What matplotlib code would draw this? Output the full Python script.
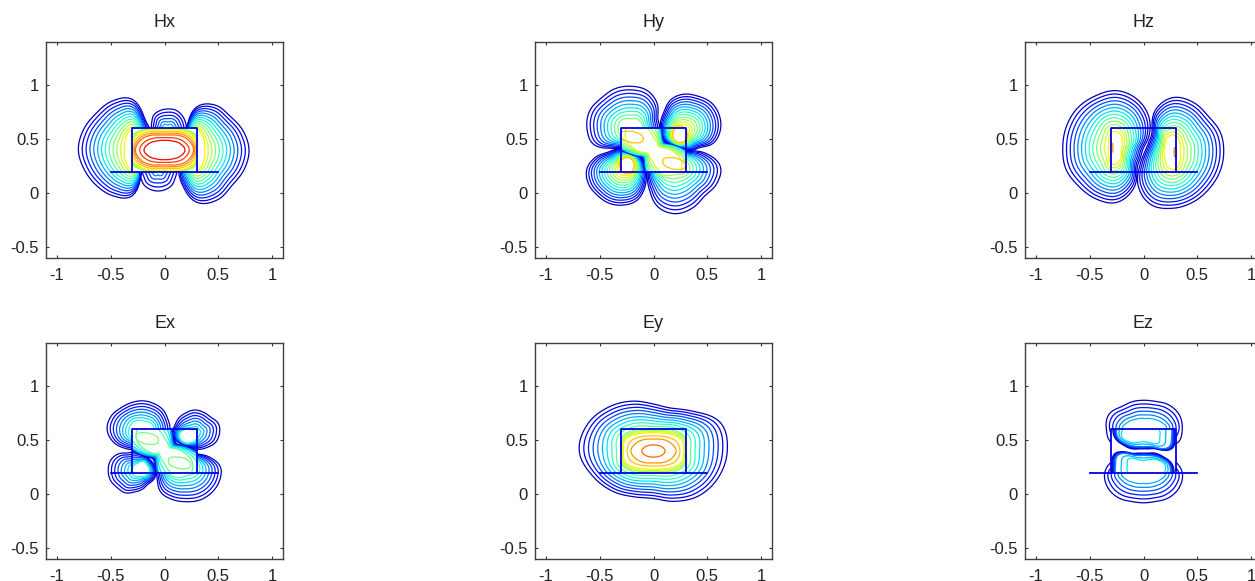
import numpy as np
import matplotlib
matplotlib.use("Agg")
import matplotlib.pyplot as plt
from matplotlib.path import Path

plt.rcParams['font.family'] = ['Liberation Sans', 'DejaVu Sans']

# every lobe: centre, contour levels of the rings, ring radii read every 22.5 deg (counter clockwise from east)
ANGLES = np.arange(0, 360, 22.5)
XTICKS = [-1, -0.5, 0, 0.5, 1]
XTICK_LABELS = ['-1', '-0.5', '0', '0.5', '1']
YTICKS = [-0.5, 0, 0.5, 1]
YTICK_LABELS = ['-0.5', '0', '0.5', '1']
TITLES = ['Hx', 'Hy', 'Hz', 'Ex', 'Ey', 'Ez']
RECT_X = [-0.3, -0.3, 0.3, 0.3]
RECT_Y = [0.2, 0.6, 0.6, 0.2]
BASE_X = [-0.5, 0.5]
BASE_Y = [0.2, 0.2]

# small tilted oval used for the closed rings inside the guide
OVAL = [.105, .08, .06, .055, .055, .06, .08, .11, .105, .08, .06, .055, .055, .06, .08, .11]
OVAL_IN = [.01] * 16
TINY = [.012, .012, .014, .03, .045, .03, .014, .012, .012, .012, .014, .03, .045, .03, .014, .012]

# S shaped region inside the guide (Hy, Ex)
S_OUTER = [.30, .15, .135, .19, .45, .60, .60, .60, .30, .155, .135, .21, .45, .60, .60, .60]
S_MID = [.26, .115, .10, .16, .30, .45, .50, .45, .26, .115, .10, .17, .30, .45, .50, .45]
S_INNER = [.16, .07, .06, .08, .12, .24, .32, .28, .16, .07, .06, .08, .12, .24, .32, .28]

# Hx
HX_L_OUT = [.14, .16, .24, .31, .47, .49, .477, .49, .50, .48, .467, .46, .425, .23, .2, .15]
HX_L_IN = [.03, .04, .07, .13, .19, .14, .10, .08, .07, .08, .10, .14, .18, .12, .07, .04]
HX_R_OUT = [.485, .465, .44, .45, .40, .24, .2, .16, .14, .15, .24, .35, .485, .50, .463, .475]
HX_R_IN = [.07, .08, .10, .14, .19, .13, .07, .04, .03, .04, .07, .13, .19, .14, .10, .08]
HX_T_OUT = [.17, .175, .18, .185, .18, .18, .18, .16, .15, .14, .14, .14, .14, .14, .14, .14]
HX_T_IN = [.06, .05, .05, .04, .03, .04, .05, .05, .06, .05, .05, .05, .05, .05, .05, .05]
HX_B_OUT = [.17, .14, .14, .14, .14, .14, .14, .14, .17, .17, .18, .18, .18, .18, .18, .17]
HX_B_IN = [.06, .05, .05, .05, .05, .05, .05, .05, .06, .05, .05, .04, .03, .04, .05, .05]
HX_C_10 = [.33, .33, .27, .22, .21, .22, .27, .33, .33, .33, .27, .22, .21, .22, .27, .33]
HX_C_13 = [.30, .30, .25, .20, .19, .20, .25, .30, .30, .30, .25, .20, .19, .20, .25, .30]
HX_C_16 = [.27, .24, .19, .15, .14, .15, .19, .24, .27, .24, .19, .15, .14, .15, .19, .24]
HX_C_18 = [.19, .155, .115, .096, .09, .096, .115, .155, .19, .155, .115, .096, .09, .096, .115, .155]

# Hy
HY_TL_OUT = [.255, .26, .33, .378, .39, .40, .40, .425, .418, .386, .26, .2, .15, .15, .18, .22]
HY_TL_IN = [.10, .10, .10, .10, .09, .10, .12, .13, .13, .13, .13, .10, .06, .06, .06, .08]
HY_TR_OUT = [.34, .36, .364, .345, .337, .31, .255, .23, .215, .209, .178, .17, .17, .20, .22, .30]
HY_TR_IN = [.03, .03, .03, .03, .03, .04, .06, .08, .09, .11, .12, .12, .10, .08, .05, .03]
HY_BL_OUT = [.21, .20, .19, .18, .185, .20, .22, .285, .34, .35, .34, .34, .33, .315, .27, .23]
HY_BL_IN = [.09, .11, .12, .12, .10, .08, .05, .03, .03, .03, .03, .03, .03, .04, .06, .08]
HY_BR_OUT = [.42, .31, .20, .16, .14, .15, .18, .22, .25, .28, .33, .41, .44, .42, .39, .42]
HY_BR_IN = [.10, .10, .10, .08, .08, .08, .10, .15, .16, .16, .12, .09, .08, .08, .10, .11]

# Hz
HZ_L_OUT = [.25, .33, .42, .49, .53, .52, .517, .506, .50, .51, .50, .51, .506, .41, .27, .24]
HZ_L_IN = [.05, .06, .07, .12, .15, .15, .10, .08, .08, .08, .10, .15, .15, .10, .06, .05]
HZ_R_OUT = [.475, .48, .47, .50, .505, .42, .27, .24, .26, .33, .45, .526, .52, .50, .48, .475]
HZ_R_IN = [.07, .08, .10, .14, .16, .14, .10, .08, .08, .08, .10, .14, .16, .14, .10, .08]

# Ex
EX_TL_OUT = [.25, .25, .26, .26, .265, .27, .285, .32, .333, .30, .245, .2, .15, .15, .18, .22]
EX_TL_IN = [.10, .10, .09, .08, .08, .09, .11, .12, .13, .14, .12, .10, .06, .06, .07, .09]
EX_TR_OUT = [.23, .24, .215, .215, .22, .21, .207, .20, .21, .18, .145, .13, .14, .155, .175, .21]
EX_TR_IN = [.02, .03, .03, .04, .04, .04, .06, .10, .14, .14, .12, .09, .07, .05, .03, .02]
EX_BL_OUT = [.20, .185, .17, .17, .17, .175, .215, .24, .243, .24, .225, .224, .20, .19, .18, .20]
EX_BL_IN = [.14, .13, .12, .07, .05, .04, .04, .03, .03, .03, .03, .04, .05, .06, .08, .12]
EX_BR_OUT = [.32, .24, .17, .14, .13, .14, .17, .22, .27, .29, .33, .325, .32, .33, .335, .335]
EX_BR_IN = [.10, .10, .10, .08, .08, .08, .10, .13, .17, .17, .13, .10, .08, .08, .09, .10]

# Ey
EY_1 = [.685, .677, .52, .43, .435, .50, .58, .66, .69, .61, .53, .46, .44, .505, .59, .65]
EY_10 = [.30, .32, .27, .22, .20, .22, .27, .32, .30, .32, .27, .22, .20, .22, .27, .32]
EY_13 = [.28, .28, .22, .18, .17, .18, .22, .28, .28, .28, .22, .18, .17, .18, .22, .28]
EY_15 = [.21, .18, .145, .12, .11, .12, .145, .18, .21, .18, .145, .12, .11, .12, .145, .18]
EY_16 = [.107, .09, .07, .06, .055, .06, .07, .09, .107, .09, .07, .06, .055, .06, .07, .09]

# Ez
EZ_T_OUT = [.35, .35, .32, .28, .27, .28, .30, .36, .355, .33, .2, .2, .2, .2, .2, .33]
EZ_T_IN = [.20, .17, .13, .11, .10, .11, .13, .17, .20, .05, .05, .05, .05, .05, .05, .05]
EZ_B_OUT = [.36, .30, .2, .2, .2, .2, .2, .30, .36, .36, .33, .29, .28, .29, .33, .36]
EZ_B_IN = [.20, .05, .05, .05, .05, .05, .05, .05, .20, .17, .13, .11, .10, .11, .13, .17]
EZ_CT_1 = [.29, .30, .30, .30, .30, .30, .30, .30, .27, .20, .155, .12, .11, .12, .155, .285]
EZ_CT_5 = [.26, .27, .24, .20, .20, .20, .24, .26, .24, .17, .12, .095, .09, .095, .13, .25]
EZ_CT_7 = [.15, .16, .13, .10, .08, .10, .13, .20, .20, .13, .07, .05, .04, .05, .07, .15]
EZ_CB_1 = [.27, .20, .155, .12, .11, .12, .155, .285, .29, .30, .30, .30, .30, .30, .30, .30]
EZ_CB_5 = [.24, .17, .12, .095, .09, .095, .13, .25, .26, .27, .24, .20, .20, .20, .24, .26]
EZ_CB_7 = [.20, .13, .07, .05, .04, .05, .07, .15, .15, .16, .13, .10, .08, .10, .13, .20]

PANELS = {
    'Hx': [((-.3, .4), [1, 13], [HX_L_OUT, HX_L_IN], 'out'),
           ((.3, .4), [1, 13], [HX_R_OUT, HX_R_IN], 'out'),
           ((.03, .6), [1, 6], [HX_T_OUT, HX_T_IN], 'out'),
           ((-.06, .2), [1, 5], [HX_B_OUT, HX_B_IN], 'out'),
           ((0, .4), [10, 13, 16, 18], [HX_C_10, HX_C_13, HX_C_16, HX_C_18], 'in')],
    'Hy': [((-.2, .6), [1, 10], [HY_TL_OUT, HY_TL_IN], 'out'),
           ((.28, .58), [1, 14], [HY_TR_OUT, HY_TR_IN], None),
           ((-.28, .22), [1, 14], [HY_BL_OUT, HY_BL_IN], None),
           ((.2, .25), [1, 11], [HY_BR_OUT, HY_BR_IN], 'out'),
           ((0, .4), [1, 8, 12], [S_OUTER, S_MID, S_INNER], 'in'),
           ((-.2, .52), [14, 14.2], [OVAL, OVAL_IN], 'in'),
           ((.19, .275), [14, 14.2], [OVAL, OVAL_IN], 'in')],
    'Hz': [((-.25, .42), [1, 13], [HZ_L_OUT, HZ_L_IN], None),
           ((.27, .38), [1, 13], [HZ_R_OUT, HZ_R_IN], None),
           ((-.295, .42), [15, 15.2], [TINY, OVAL_IN], None),
           ((.295, .38), [15, 15.2], [TINY, OVAL_IN], None)],
    'Ex': [((-.2, .6), [1, 8], [EX_TL_OUT, EX_TL_IN], 'out'),
           ((.28, .56), [1, 8], [EX_TR_OUT, EX_TR_IN], None),
           ((-.28, .22), [1, 8], [EX_BL_OUT, EX_BL_IN], None),
           ((.2, .25), [1, 9], [EX_BR_OUT, EX_BR_IN], 'out'),
           ((0, .4), [1, 6, 9], [S_OUTER, S_MID, S_INNER], 'in'),
           ((-.16, .515), [10, 10.2], [OVAL, OVAL_IN], 'in'),
           ((.14, .29), [10, 10.2], [OVAL, OVAL_IN], 'in')],
    'Ey': [((0, .4), [1, 10, 13, 15, 16], [EY_1, EY_10, EY_13, EY_15, EY_16], None)],
    'Ez': [((.01, .6), [1, 6], [EZ_T_OUT, EZ_T_IN], 'out'),
           ((0, .2), [1, 6], [EZ_B_OUT, EZ_B_IN], 'out'),
           ((0, .53), [1, 5, 7], [EZ_CT_1, EZ_CT_5, EZ_CT_7], 'in'),
           ((0, .27), [1, 5, 7], [EZ_CB_1, EZ_CB_5, EZ_CB_7], 'in')],
}

fig = plt.figure(figsize=(12.55, 5.81), dpi=100)
W, H = 1255.0, 581.0
lefts = [46, 535, 1025]
tops = [42, 343]

# clip paths: inside the guide, and everything around it
inside = Path([(-.3, .2), (.3, .2), (.3, .6), (-.3, .6), (-.3, .2)],
              [Path.MOVETO, Path.LINETO, Path.LINETO, Path.LINETO, Path.CLOSEPOLY])
outside = Path([(-3, -3), (3, -3), (3, 3), (-3, 3), (-3, -3),
                (-.3, .2), (-.3, .6), (.3, .6), (.3, .2), (-.3, .2)],
               [Path.MOVETO, Path.LINETO, Path.LINETO, Path.LINETO, Path.CLOSEPOLY,
                Path.MOVETO, Path.LINETO, Path.LINETO, Path.LINETO, Path.CLOSEPOLY])


def round_ring(r, steps=6):
    # Catmull-Rom through the read radii, so a ring is not drawn as a 16-gon
    r = np.asarray(r, dtype=float)
    out = []
    for k in range(len(r)):
        p0, p1, p2, p3 = r[k - 1], r[k], r[(k + 1) % len(r)], r[(k + 2) % len(r)]
        for t in np.arange(steps) / steps:
            out.append(0.5 * (2 * p1 + (p2 - p0) * t + (2 * p0 - 5 * p1 + 4 * p2 - p3) * t ** 2
                              + (3 * p1 - p0 - 3 * p2 + p3) * t ** 3))
    out.append(out[0])
    return out


def draw_lobe(ax, centre, levels, rings, clip):
    R = np.array([round_ring(r) for r in rings])
    rad = np.radians(np.linspace(0, 360, R.shape[1]))
    X = centre[0] + R * np.cos(rad)
    Y = centre[1] + R * np.sin(rad)
    Z = np.array([np.full(R.shape[1], float(l)) for l in levels])
    Z[0] -= 0.01
    Z[-1] += 0.01
    wanted = np.arange(int(np.ceil(levels[0])), int(np.floor(levels[-1])) + 1)
    cs = ax.contour(X, Y, Z, levels=wanted, cmap='jet', vmin=0, vmax=20, linewidths=0.9)
    if clip == 'in':
        cs.set_clip_path(inside, transform=ax.transData)
    elif clip == 'out':
        cs.set_clip_path(outside, transform=ax.transData)


for i, name in enumerate(TITLES):
    left = lefts[i % 3]
    top = tops[i // 3]
    ax = fig.add_axes([left / W, 1 - (top + 216) / H, 237 / W, 216 / H])
    for centre, levels, rings, clip in PANELS[name]:
        draw_lobe(ax, centre, levels, rings, clip)
    ax.plot(RECT_X, RECT_Y, color='#0000e8', lw=1.3)
    ax.plot(BASE_X, BASE_Y, color='#0000e8', lw=1.3)
    ax.set_xticks(XTICKS)
    ax.set_xticklabels(XTICK_LABELS)
    ax.set_yticks(YTICKS)
    ax.set_yticklabels(YTICK_LABELS)
    ax.set_xlim(-1.1, 1.1)
    ax.set_ylim(-0.6, 1.4)
    ax.tick_params(direction='in', top=True, right=True, length=2.5, width=0.8,
                   labelsize=12, labelcolor='#222222', color='#303030', pad=5)
    ax.tick_params(axis='x', pad=7)
    for s in ax.spines.values():
        s.set_color('#404040')
        s.set_linewidth(1.0)
    ax.set_title(name, fontsize=13, color='#222222', pad=11)

fig.savefig('out.png', dpi=100)
